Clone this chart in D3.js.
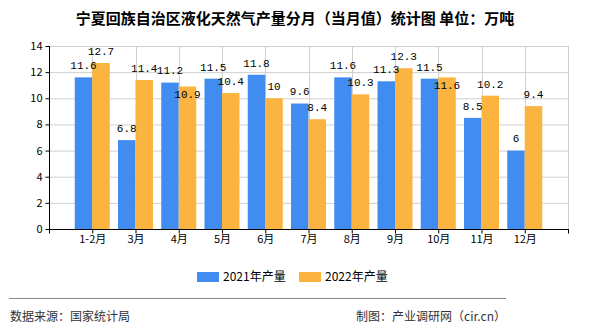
<!DOCTYPE html>
<html><head><meta charset="utf-8">
<script src="https://cdn.jsdelivr.net/npm/d3@7"></script>
<style>body{margin:0;background:#fff}svg{display:block}</style>
</head><body>
<script>
const categories = ["1-2月","3月","4月","5月","6月","7月","8月","9月","10月","11月","12月"];
const values2021 = [11.6,6.8,11.2,11.5,11.8,9.6,11.6,11.3,11.5,8.5,6];
const values2022 = [12.7,11.4,10.9,10.4,10,8.4,10.3,12.3,11.6,10.2,9.4];
const seriesNames = ["2021年产量","2022年产量"];
const yTicks = [0,2,4,6,8,10,12,14];
const titleText = "宁夏回族自治区液化天然气产量分月（当月值）统计图 单位：万吨";
const sourceText = "数据来源：国家统计局";
const creditText = "制图：产业调研网（cir.cn）";

(function(){
const W=590,H=330;
const colors=["#418CF0","#FCB441"];
const svg=d3.select("body").append("svg").attr("width",W).attr("height",H);
const pL=49,pR=568,pT=46,pB=229;
const x=d3.scalePoint().domain(categories).range([pL,pR]).padding(1);
const y=d3.scaleLinear().domain([0,14]).range([pB,pT]);
const bw=17.5;
const numFont="'Liberation Mono','DejaVu Sans Mono',monospace";
const cjk="'Noto Sans CJK SC','Noto Sans',sans-serif";

svg.append("text").attr("x",W/2).attr("y",24).attr("text-anchor","middle")
  .attr("font-family",cjk).attr("font-size",15).attr("font-weight","bold").attr("fill","#000").text(titleText);

const g=svg.append("g");
g.selectAll(".hg").data(yTicks.filter(d=>d>0)).join("line")
  .attr("x1",pL).attr("x2",pR).attr("y1",d=>y(d)+0.5).attr("y2",d=>y(d)+0.5)
  .attr("stroke","#d0d0d0");
g.selectAll(".vg").data(categories).join("line")
  .attr("x1",d=>Math.round(x(d))+0.5).attr("x2",d=>Math.round(x(d))+0.5).attr("y1",pT).attr("y2",pB)
  .attr("stroke","#d0d0d0");
g.append("line").attr("x1",pR+0.5).attr("x2",pR+0.5).attr("y1",pT).attr("y2",pB).attr("stroke","#d0d0d0");

const data=categories.map((c,i)=>({c,v:[values2021[i],values2022[i]]}));
const groups=svg.append("g").selectAll("g").data(data).join("g");
[0,1].forEach(s=>{
  groups.append("rect").attr("x",d=>x(d.c)-bw+s*bw).attr("width",bw)
    .attr("y",d=>y(d.v[s])).attr("height",d=>pB-y(d.v[s])).attr("fill",colors[s]);
});

const labels=[];
data.forEach(d=>{
  const yb=y(d.v[0])-12;
  let yo=y(d.v[1])-12;
  if(Math.abs(yo-yb)<12) yo=y(d.v[1])+8;
  labels.push({x:x(d.c)-bw/2,y:yb,t:d.v[0]});
  labels.push({x:x(d.c)+bw/2,y:yo,t:d.v[1]});
});
svg.append("g").selectAll("text").data(labels).join("text")
  .attr("x",d=>d.x).attr("y",d=>d.y).attr("dy","0.35em").attr("text-anchor","middle")
  .attr("font-family",numFont).attr("font-size",11).attr("fill","#000").text(d=>d.t);

const ya=svg.append("g").attr("transform",`translate(${pL+0.5},0)`)
  .call(d3.axisLeft(y).tickValues(yTicks).tickSize(4).tickPadding(3).tickFormat(d3.format("d")));
ya.select(".domain").attr("d",`M0,${pT}V${pB}`).attr("stroke","#000");
ya.selectAll("text").attr("font-family",cjk).attr("font-size",11).attr("fill","#000");
const xa=svg.append("g").attr("transform",`translate(0,${pB+0.5})`)
  .call(d3.axisBottom(x).tickSize(4).tickPadding(2));
xa.select(".domain").attr("d",`M${pL},0H${pR+1}M${pL+0.5},0V4M${pR+0.5},0V4`).attr("stroke","#000");
xa.selectAll("text").attr("font-family",cjk).attr("font-size",11).attr("fill","#000");
xa.selectAll(".tick line").attr("stroke","#000");

const lg=svg.append("g");
const lx=[197,299];
seriesNames.forEach((n,i)=>{
  lg.append("rect").attr("x",lx[i]).attr("y",272).attr("width",22).attr("height",10).attr("fill",colors[i]);
  lg.append("text").attr("x",lx[i]+26).attr("y",277).attr("dy","0.35em").attr("font-family",cjk)
    .attr("font-size",12).attr("fill","#000").text(n);
});

svg.append("line").attr("x1",9).attr("x2",506).attr("y1",298.5).attr("y2",298.5).attr("stroke","#888");
svg.append("text").attr("x",10).attr("y",317).attr("dy","0.35em").attr("font-family",cjk).attr("font-size",12).attr("fill","#333").text(sourceText);
svg.append("text").attr("x",506).attr("y",317).attr("dy","0.35em").attr("text-anchor","end").attr("font-family",cjk).attr("font-size",12).attr("fill","#333").text(creditText);
})();
</script>
</body></html>
